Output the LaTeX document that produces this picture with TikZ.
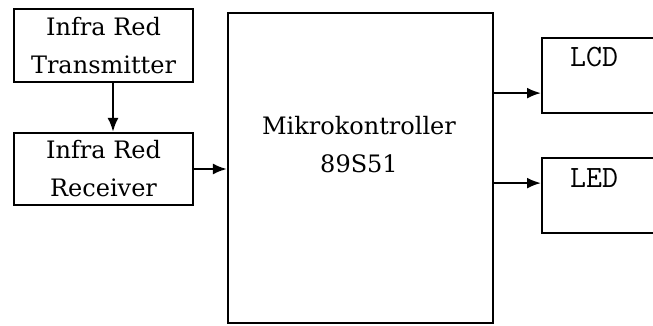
\documentclass[tikz,border=0pt]{standalone}
\usepackage{fontspec}
\usetikzlibrary{arrows.meta}
\newfontfamily\blockfont{DejaVu Serif}
\begin{document}
\begin{tikzpicture}[
    x=1pt, y=-1pt,
    blk/.style={rectangle, draw, line width=2.2pt, minimum width=#1, inner sep=0pt},
    txt/.style={align=center, inner sep=0pt, font=\fontsize{24}{38}\selectfont\blockfont},
    outtxt/.style={anchor=base west, inner sep=0pt, font=\fontsize{31}{31}\selectfont\ttfamily},
    sig/.style={-{Latex[length=14pt,width=11pt]}, line width=2.2pt}
]
    \clip (0,0) rectangle (653,326);
    % Blok masukan
    \node[blk=179pt, minimum height=73pt, txt] (tx) at (103.5,45.5) {Infra Red\\Transmitter};
    \node[blk=179pt, minimum height=72pt, txt] (rx) at (103.5,169) {Infra Red\\Receiver};
    % Mikrokontroller
    \node[blk=265pt, minimum height=310pt] (main) at (360.5,168) {};
    \node[txt] (mainlbl) at (359,145) {Mikrokontroller\\89S51};
    % Blok keluaran
    \node[blk=130pt, minimum height=75pt, anchor=north west] (lcd) at (541,37) {};
    \node[blk=130pt, minimum height=75pt, anchor=north west] (led) at (541,157) {};
    \node[outtxt] (lcdlbl) at (570,67) {LCD};
    \node[outtxt] (ledlbl) at (570,187) {LED};
    \coordinate (lcdin) at ([yshift=-17.5pt]lcd.west);
    \coordinate (ledin) at ([yshift=12.5pt]led.west);
    % Sinyal
    \draw[sig] ([xshift=9.5pt]tx.south) -- ([xshift=9.5pt]rx.north);
    \draw[sig] (rx.east) -- (rx.east -| main.west);
    \draw[sig] (main.east |- lcdin) -- (lcdin);
    \draw[sig] (main.east |- ledin) -- (ledin);
\end{tikzpicture}
\end{document}
